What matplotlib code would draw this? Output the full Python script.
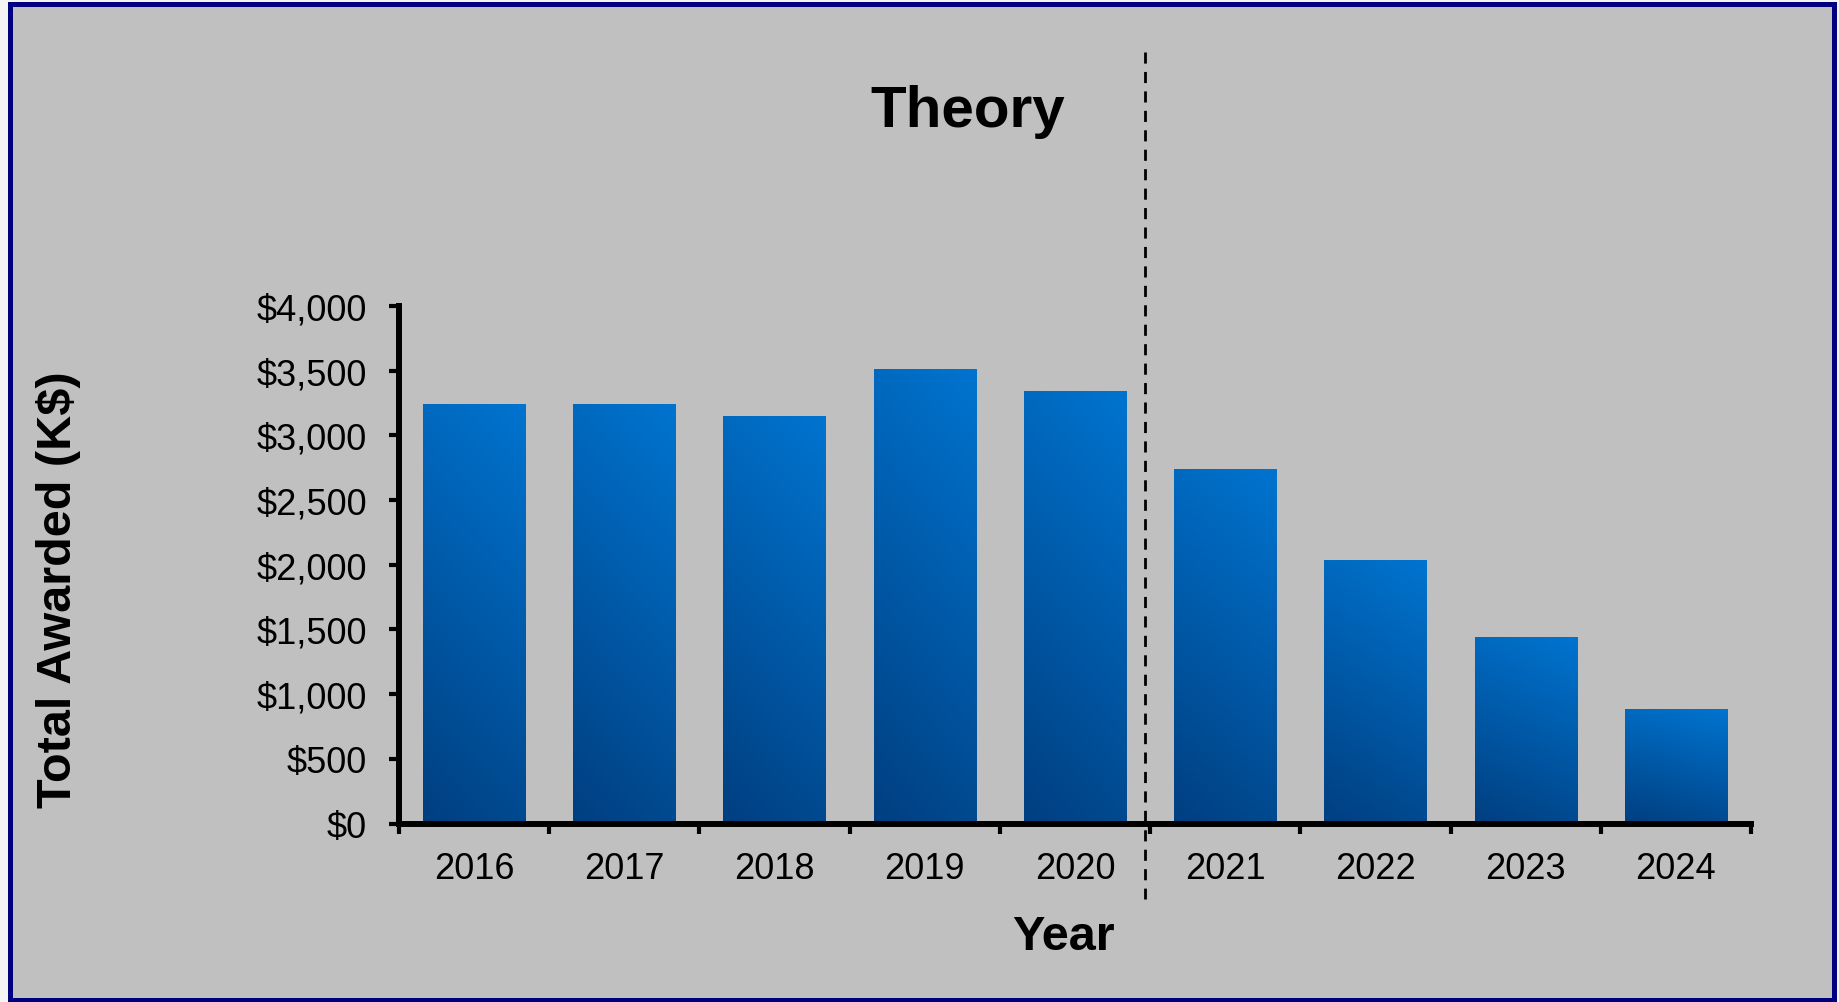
import numpy as np
import matplotlib
matplotlib.use('Agg')
import matplotlib.pyplot as plt
from matplotlib.patches import Rectangle

plt.rcParams['font.family'] = ['Liberation Sans', 'DejaVu Sans']

years = ['2016', '2017', '2018', '2019', '2020', '2021', '2022', '2023', '2024']
awarded = [3240, 3240, 3150, 3510, 3340, 2740, 2040, 1440, 885]
y_ticks = [0, 500, 1000, 1500, 2000, 2500, 3000, 3500, 4000]

W, H = 1839, 1003
fig = plt.figure(figsize=(W / 100, H / 100), dpi=100)
fig.patch.set_facecolor('#f4f4f4')

# navy frame with grey panel
frame = Rectangle((9.5 / W, 1 - 1001 / H), (1833.5 - 9.5) / W, (1001 - 5) / H,
                  transform=fig.transFigure, facecolor='#c0c0c0',
                  edgecolor='#000080', linewidth=3.6, zorder=0)
fig.add_artist(frame)

ax = fig.add_axes([399 / W, 1 - 824.5 / H, (1751 - 399) / W, (824.5 - 307) / H])
ax.set_facecolor('none')

x = np.arange(len(years))
width = 0.68
bars = ax.bar(x, awarded, width=width, color='none', edgecolor='none', zorder=2)

# gradient fill, dark at bottom-left, bright at top-right
c_top = np.array([0.0, 0.455, 0.815])
c_bot = np.array([0.0, 0.245, 0.50])
n = 200
xf, yf = np.meshgrid(np.linspace(0, 1, n), np.linspace(1, 0, n))
t = 0.80 * (1 - yf) + 0.20 * (1 - xf)
t = np.clip(t, 0, 1)[..., None]
grad = c_top * (1 - t) + c_bot * t
for b in bars:
    x0, y0 = b.get_x(), b.get_y()
    im = ax.imshow(grad, extent=(x0, x0 + b.get_width(), y0, y0 + b.get_height()),
                   aspect='auto', zorder=2, interpolation='bilinear')
    im.set_clip_path(b)

ax.set_xlim(-0.5, len(years) - 0.5)
ax.set_ylim(0, 4000)

ax.set_yticks(y_ticks)
ax.set_yticklabels(['${:,}'.format(v) for v in y_ticks])
ax.set_xticks(x)
ax.set_xticklabels(years)
ax.set_xticks(np.arange(-0.5, len(years)), minor=True)

for s in ['top', 'right']:
    ax.spines[s].set_visible(False)
for s in ['left', 'bottom']:
    ax.spines[s].set_linewidth(4.3)
    ax.spines[s].set_color('black')
    ax.spines[s].set_capstyle('projecting')

ax.tick_params(axis='y', which='major', direction='out', length=7, width=3,
               labelsize=26, pad=16)
ax.tick_params(axis='x', which='major', length=0, labelsize=26, pad=20)
ax.tick_params(axis='x', which='minor', direction='out', length=7, width=3)

ax.set_ylabel('Total Awarded (K$)', fontsize=35, fontweight='bold', labelpad=0)
ax.yaxis.set_label_coords(81 / W, 1 - 590 / H, transform=fig.transFigure)

fig.text(1063 / W, 1 - 937 / H, 'Year', fontsize=35, fontweight='bold',
         ha='center', va='center')
fig.text(968 / W, 1 - 127 / H, 'Theory', fontsize=42, fontweight='bold',
         ha='center', va='baseline')

# dashed separator between 2020 and 2021
fig.add_artist(plt.Line2D([1145 / W, 1145 / W], [1 - 53 / H, 1 - 900 / H],
                          transform=fig.transFigure, color='black',
                          linewidth=2, linestyle=(0, (4, 3)), zorder=5))

fig.savefig('out.png', dpi=100, facecolor=fig.get_facecolor())
